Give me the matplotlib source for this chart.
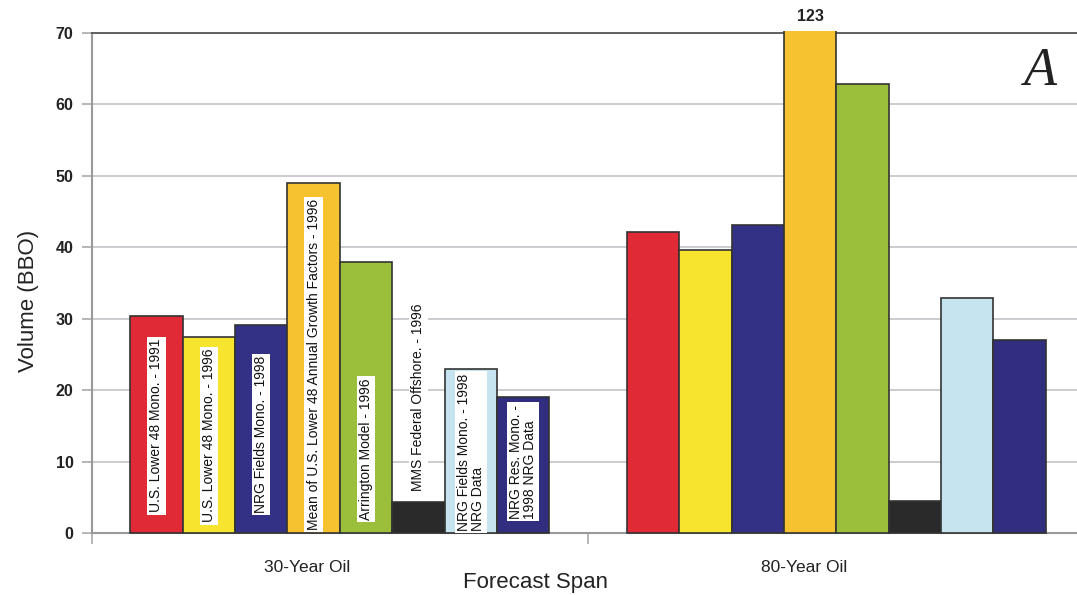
import matplotlib
matplotlib.use("Agg")
import matplotlib.pyplot as plt
from matplotlib.transforms import Bbox, TransformedBbox

plt.rcParams['font.family'] = ['Liberation Sans', 'DejaVu Sans']

# Forecast spans (x categories)
spans = ["30-Year Oil", "80-Year Oil"]

# Forecast methods (one bar per method in each span)
methods = [
    "U.S. Lower 48 Mono. - 1991",
    "U.S. Lower 48 Mono. - 1996",
    "NRG Fields Mono. - 1998",
    "Mean of U.S. Lower 48 Annual Growth Factors - 1996",
    "Arrington Model - 1996",
    "MMS Federal Offshore. - 1996",
    "NRG Fields Mono. - 1998\nNRG Data",
    "NRG Res. Mono. -\n1998 NRG Data",
]
colors = ["#e02a36", "#f6e42f", "#333186", "#f6c22f", "#9bbe3b",
          "#2a2a2a", "#c6e4f0", "#312e7f"]

# Volumes in BBO
vol_30 = [30.4, 27.4, 29.1, 49.0, 38.0, 4.3, 23.0, 19.0]
vol_80 = [42.2, 39.6, 43.1, 123.0, 62.9, 4.5, 32.9, 27.0]

# vertical anchor (data units) of each rotated in-bar label
label_base = [2.9, 1.5, 2.8, 0.4, 1.8, 5.9, 0.3, 2.0]

yticks = [0, 10, 20, 30, 40, 50, 60, 70]
ymax = 70

fig = plt.figure(figsize=(10.77, 5.95), dpi=100)
ax = fig.add_axes([0.085, 0.1042, 0.922, 0.8403])

n = len(methods)
width = 0.1055
ax.set_xlim(-0.5, 1.5)
ax.set_ylim(0, ymax)

clip = TransformedBbox(Bbox([[-0.5, -1], [1.5, ymax + 0.35]]), ax.transData)

for gi, vals in enumerate([vol_30, vol_80]):
    for j, v in enumerate(vals):
        x = gi + (j - (n - 1) / 2) * width
        bars = ax.bar(x, v, width=width, color=colors[j], edgecolor="#333333",
                      linewidth=1.2, zorder=3)
        for p in bars:
            p.set_clip_box(clip)
        if v > ymax:
            ax.text(x, ymax + 1.2, f"{v:.0f}", ha="center", va="bottom",
                    fontsize=11.5, fontweight="bold", color="#222222",
                    clip_on=False)
        if gi == 0:
            ax.text(x, label_base[j], methods[j], rotation=90, ha="center",
                    va="bottom", fontsize=10.0, color="#111111",
                    multialignment="left", linespacing=1.0, zorder=4,
                    bbox=dict(facecolor="white", edgecolor="none", pad=1.6))

# grid and axes styling
ax.set_yticks(yticks)
ax.yaxis.grid(True, color="#c8c8cd", linewidth=1.3, zorder=0)
ax.set_axisbelow(True)
for lbl in ax.get_yticklabels():
    lbl.set_fontweight("bold")
ax.tick_params(axis="y", length=7, width=1.2, color="#aaaaaa",
               labelsize=11.5, labelcolor="#222222", pad=6)

ax.set_xticks([-0.5, 0.5, 1.5])
ax.set_xticklabels([])
ax.tick_params(axis="x", length=8, width=1.2, color="#aaaaaa")
for gi, s in enumerate(spans):
    ax.text(gi - 0.065, -3.8, s, ha="center", va="top", fontsize=12.5,
            color="#222222")

ax.spines["left"].set_color("#999999")
ax.spines["left"].set_linewidth(1.5)
ax.spines["bottom"].set_color("#999999")
ax.spines["bottom"].set_linewidth(1.5)
ax.spines["top"].set_color("#555555")
ax.spines["top"].set_linewidth(1.3)
ax.spines["right"].set_visible(False)

ax.set_ylabel("Volume (BBO)", fontsize=16, color="#222222")
ax.yaxis.set_label_coords(-0.053, 0.465)
fig.text(0.497, 0.004, "Forecast Span", ha="center", va="bottom",
         fontsize=16, color="#222222")

fig.text(0.966, 0.880, "A", ha="center", va="center", fontsize=39,
         family="Liberation Serif", style="italic", color="#222222")

fig.savefig("out.png", dpi=100)
